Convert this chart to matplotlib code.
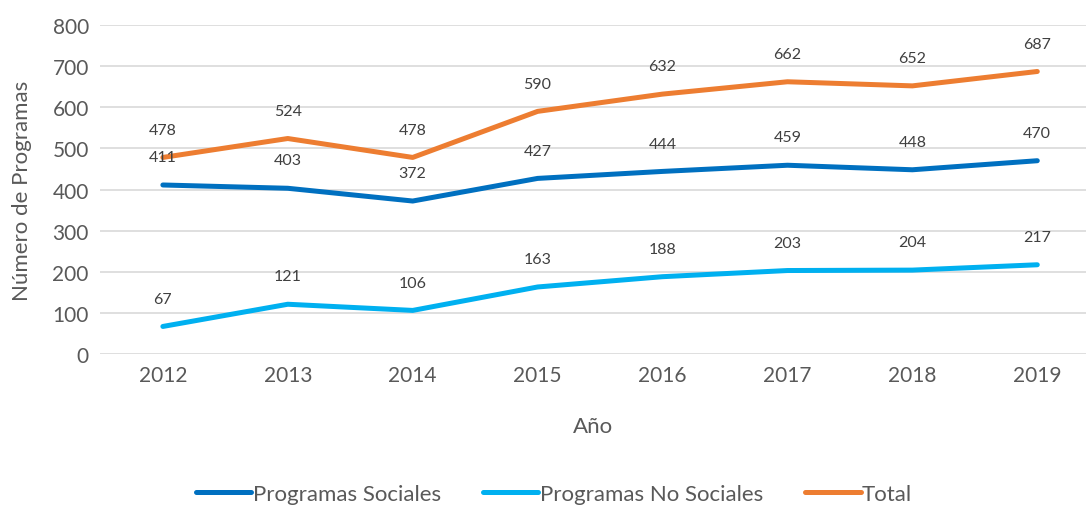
import numpy as np
from matplotlib import pyplot as plt

years = ['2012', '2013', '2014', '2015', '2016', '2017', '2018', '2019']
sociales = [411, 403, 372, 427, 444, 459, 448, 470]
no_sociales = [67, 121, 106, 163, 188, 203, 204, 217]
total = [478, 524, 478, 590, 632, 662, 652, 687]

plt.rcParams['font.family'] = ['Lato', 'DejaVu Sans']
txt = '#595959'

fig = plt.figure(figsize=(10.86, 5.06), dpi=100)
ax = fig.add_axes([0.092, 0.2984, 0.908, 0.6502])

x = np.arange(len(years))
series = [(sociales, '#0070C0', 'Programas Sociales'),
          (no_sociales, '#00B0F0', 'Programas No Sociales'),
          (total, '#ED7D31', 'Total')]
for vals, col, name in series:
    ax.plot(x, vals, color=col, lw=3.6, solid_capstyle='round', label=name, zorder=3)
for vals, col, name in series:
    for xi, v in zip(x, vals):
        ax.annotate(str(v), (xi, v), xytext=(0, 20), textcoords='offset points',
                    ha='center', va='center', fontsize=11.5, color='#404040', zorder=4)

ax.set_ylim(0, 800)
ax.set_yticks(range(0, 801, 100))
ax.set_xlim(-0.504, 7.39)
ax.set_xticks(x)
ax.set_xticklabels(years)
ax.tick_params(length=0, labelsize=15, labelcolor=txt, pad=8)
ax.grid(axis='y', color='#D9D9D9', lw=1.2)
ax.set_axisbelow(True)
for s in ax.spines.values():
    s.set_visible(False)
ax.set_ylabel('Número de Programas', fontsize=16, color=txt, labelpad=15)
ax.set_xlabel('Año', fontsize=16, color=txt, labelpad=22)

fig.legend(loc='lower center', bbox_to_anchor=(0.51, -0.038), ncol=3, frameon=False,
           fontsize=16, labelcolor=txt, handlelength=2.5, handletextpad=0.05,
           columnspacing=1.9)

plt.savefig('out.png', dpi=100)
